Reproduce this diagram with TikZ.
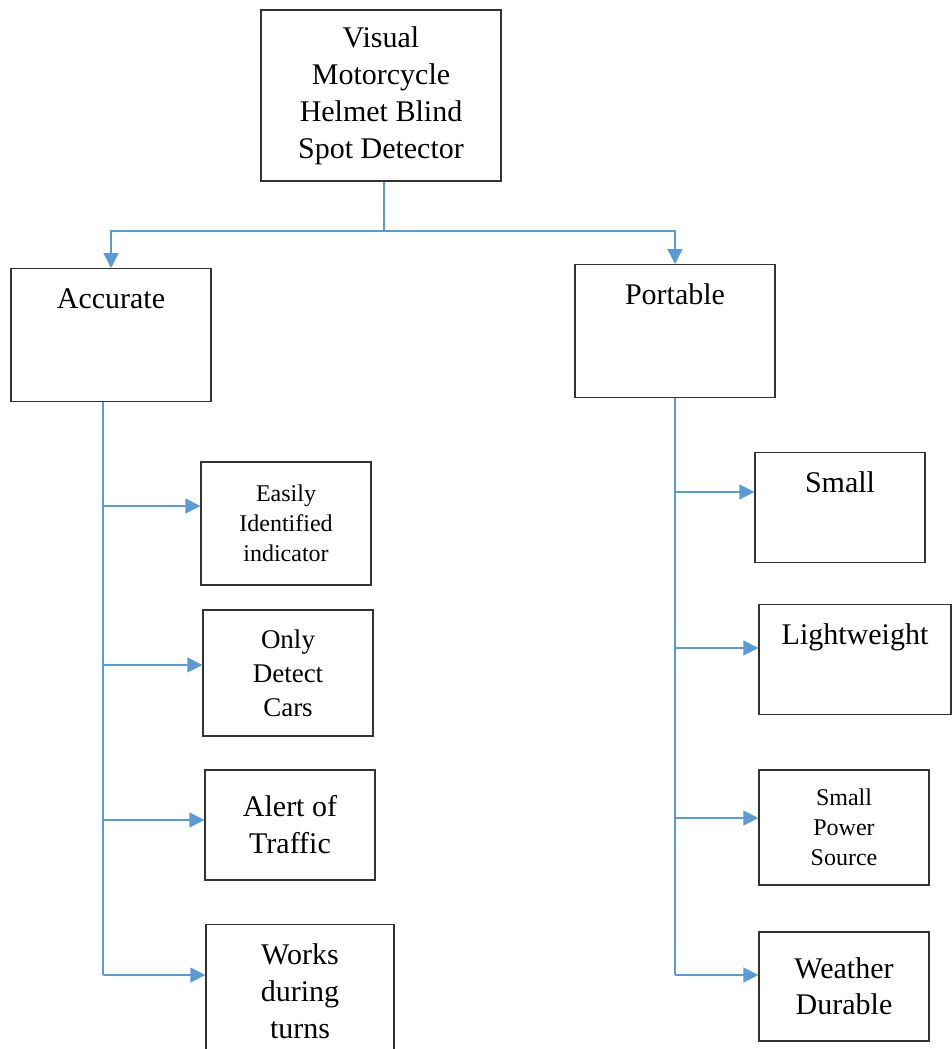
\documentclass[tikz,border=0pt]{standalone}
\usepackage{fontspec}
\setmainfont{Liberation Serif}
\usetikzlibrary{arrows.meta}
\definecolor{linkblue}{HTML}{5B9BD5}
\tikzset{
  box/.style={draw=black!80, line width=1.3pt, align=center, inner sep=0pt,
    font=\fontsize{30}{37}\selectfont},
  smallbox/.style={box, font=\fontsize{24}{30}\selectfont},
  topbox/.style={box, text height=40pt},
  link/.style={draw=linkblue, line width=1.4pt},
  arrowlink/.style={link, -{Triangle[length=15pt,width=15pt]}},
}
\begin{document}
\begin{tikzpicture}[x=1pt,y=-1pt]
    \useasboundingbox (0,0) rectangle (951,1049);

    % main box
    \node[box, minimum width=240pt, minimum height=171pt] (detector) at (381,95.5)
        {Visual\\Motorcycle\\Helmet Blind\\Spot Detector};

    % two branches
    \node[topbox, minimum width=200pt, text depth=93pt, anchor=north] (accurate) at (111,268) {Accurate};
    \node[topbox, minimum width=200pt, text depth=93pt, anchor=north] (portable) at (675,264) {Portable};

    % left column
    \node[smallbox, minimum width=170pt, minimum height=123pt] (easy) at (286,523.5)
        {Easily\\Identified\\indicator};
    \node[box, font=\fontsize{27}{34}\selectfont, minimum width=170pt, minimum height=126pt] (cars) at (288,673)
        {Only\\Detect\\Cars};
    \node[box, minimum width=170pt, minimum height=110pt] (traffic) at (290,825)
        {Alert of\\Traffic};
    \node[box, minimum width=188pt, text height=114pt, text depth=37pt, anchor=north] (turns) at (300,924)
        {Works\\during\\turns};

    % right column
    \node[topbox, minimum width=170pt, text depth=70pt, anchor=north] (small) at (840,452) {Small};
    \node[topbox, minimum width=192pt, text depth=70pt, anchor=north] (light) at (855,604) {Lightweight};
    \node[smallbox, minimum width=170pt, minimum height=115pt] (power) at (844,827.5)
        {Small\\Power\\Source};
    \node[box, font=\fontsize{30}{36}\selectfont, minimum width=170pt, minimum height=109pt] (weather) at (844,986.5)
        {Weather\\Durable};

    % connectors
    \coordinate (split) at (384,231);
    \coordinate (lbottom) at (103,975);
    \coordinate (rbottom) at (675,975);

    \draw[link] (detector.south -| split) -- (split);
    \draw[arrowlink] (split) -| (accurate.north);
    \draw[arrowlink] (split) -| (portable.north);

    \draw[link] (accurate.south -| lbottom) -- (lbottom);
    \draw[link] (portable.south -| rbottom) -- (rbottom);

    \foreach \n/\y in {easy/506,cars/665,traffic/820,turns/975}
        \draw[arrowlink] (lbottom |- 0,\y) -- (\n.west |- 0,\y);
    \foreach \n/\y in {small/492,light/648,power/818,weather/975}
        \draw[arrowlink] (rbottom |- 0,\y) -- (\n.west |- 0,\y);
\end{tikzpicture}
\end{document}
